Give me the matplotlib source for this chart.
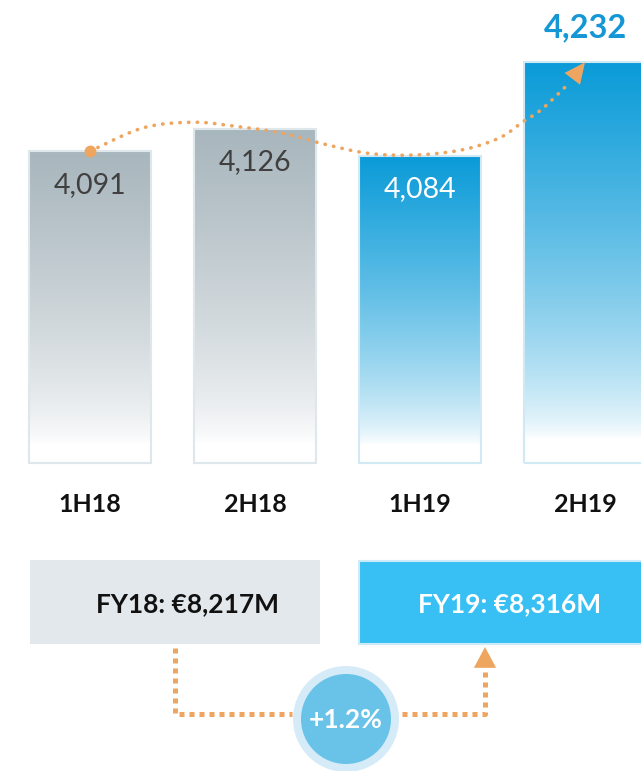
import numpy as np
import matplotlib
matplotlib.use("Agg")
import matplotlib.pyplot as plt
from matplotlib.path import Path
from matplotlib.patches import Rectangle, Circle
from matplotlib.colors import to_rgb

plt.rcParams['font.family'] = ['Lato', 'DejaVu Sans']

# data
periods = ['1H18', '2H18', '1H19', '2H19']
revenue = [4091, 4126, 4084, 4232]
label_text = ['4,091', '4,126', '4,084', '4,232']
fy_labels = ['FY18: €8,217M', 'FY19: €8,316M']
growth_label = '+1.2%'

# dotted trend curve, knots (x in bar index, y in €M)
trend_x = [0, 0.32, 0.62, 0.87, 1.16, 1.41, 1.68, 1.96, 2.25, 2.48, 2.62, 2.74, 2.90]
trend_y = [4091, 4128, 4137, 4131, 4120, 4103, 4088, 4085, 4093, 4112, 4137, 4158, 4198]

GREY_TOP = '#a8b6bd'
BLUE_TOP = '#0a9bd8'
ORANGE = '#eea560'

fig = plt.figure(figsize=(6.41, 7.71), dpi=100)

# --- background layer in pixel units for the FY boxes ---
bg = fig.add_axes([0, 0, 1, 1])
bg.set_xlim(0, 641)
bg.set_ylim(771, 0)
bg.axis('off')

bg.add_patch(Rectangle((29.5, 560), 290, 84, fc='#e2e8eb', ec='none'))
bg.add_patch(Rectangle((359, 561), 300, 83, fc='#38bff3', ec='#cdeaf8', lw=1.5))
bg.text(188, 604, fy_labels[0], ha='center', va='center', fontsize=19,
        fontweight='bold', color='#111111')
bg.text(510, 604, fy_labels[1], ha='center', va='center', fontsize=19,
        fontweight='bold', color='white')

sq = dict(color=ORANGE, lw=3.6, ls=(0, (1, 1)), dash_capstyle='butt',
          solid_capstyle='butt')
bg.plot([174.5, 174.5, 292], [648, 714, 714], **sq)
bg.plot([402, 485, 485], [714, 714, 668], **sq)
bg.annotate('', xy=(485, 647), xytext=(485, 668),
            arrowprops=dict(arrowstyle='-|>,head_length=0.75,head_width=0.4',
                            color=ORANGE, lw=0, mutation_scale=20,
                            shrinkA=0, shrinkB=0))

bg.add_patch(Circle((346, 719), 53, fc='#d5ebf8', ec='none'))
bg.add_patch(Circle((346, 719), 45, fc='#69c3e9', ec='none'))
bg.text(346, 720, growth_label, ha='center', va='center', fontsize=19,
        fontweight='bold', color='white')

# --- bar chart ---
base = 3597
px_per_unit = 0.631
ax = fig.add_axes([0, 306 / 771, 1, 465 / 771])
ax.patch.set_alpha(0)
ylo = base - 2 / px_per_unit
yhi = base + 463 / px_per_unit
xlo, xhi = -90 / 165, 551 / 165
for s in ax.spines.values():
    s.set_visible(False)
ax.set_yticks([])

x = np.arange(len(periods))
width = 0.74
heights = np.array(revenue) - base
bars = ax.bar(x, heights, bottom=base, width=width, fc='none', lw=1.5, zorder=3)

for i, (b, v) in enumerate(zip(bars, revenue)):
    top = np.array(to_rgb(GREY_TOP if i < 2 else BLUE_TOP))
    edge = '#dde7ec' if i < 2 else '#d0e9f5'
    b.set_edgecolor(edge)
    t = np.linspace(0, 1, 256)
    s = np.clip((t - 0.06) / 0.94, 0, 1) ** 0.7
    rgb = 1 - s[:, None] * (1 - top[None, :])
    img = rgb[:, None, :]
    im = ax.imshow(img, extent=(i - width / 2, i + width / 2, base, v),
                   origin='lower', aspect='auto', zorder=2, interpolation='bilinear')
    im.set_clip_path(b)

ax.set_xlim(xlo, xhi)
ax.set_ylim(ylo, yhi)

ax.set_xticks(x, periods)
ax.tick_params(axis='x', length=0, pad=20, labelsize=18)
for lab in ax.get_xticklabels():
    lab.set_fontweight('bold')
    lab.set_color('#111111')

# value labels
for i, v in enumerate(revenue[:3]):
    ax.annotate(label_text[i], (i, v), xytext=(0, -24), textcoords='offset points',
                ha='center', va='center', fontsize=20.5,
                color='white' if i == 2 else '#404040', zorder=5)
ax.annotate(label_text[3], (3, revenue[3]), xytext=(0, 25), textcoords='offset points',
            ha='center', va='center', fontsize=23.5, fontweight='bold',
            color='#1597d5', annotation_clip=False, zorder=5)

# smooth dotted trend line (Catmull-Rom through the knots)
pts = np.column_stack([trend_x, trend_y]).astype(float)
ext = np.vstack([pts[0], pts, pts[-1]])
verts = [pts[0]]
codes = [Path.MOVETO]
for k in range(1, len(ext) - 2):
    p0, p1, p2, p3 = ext[k - 1], ext[k], ext[k + 1], ext[k + 2]
    verts += [p1 + (p2 - p0) / 6, p2 - (p3 - p1) / 6, p2]
    codes += [Path.CURVE4] * 3
curve = Path(verts, codes)
seg_pts = [seg.point_at_t(np.linspace(0, 1, 25)) for seg, _ in curve.iter_bezier()]
line = np.vstack(seg_pts)
ax.plot(line[:, 0], line[:, 1], color=ORANGE, lw=2.6, ls=(0, (0.1, 2.3)),
        dash_capstyle='round', zorder=6, clip_on=False)
ax.plot(trend_x[0], trend_y[0], 'o', color=ORANGE, ms=7.5, zorder=7)
ax.annotate('', xy=(3, revenue[3]), xytext=(trend_x[-1], trend_y[-1]),
            arrowprops=dict(arrowstyle='-|>,head_length=0.75,head_width=0.35',
                            color=ORANGE, lw=0, mutation_scale=20,
                            shrinkA=0, shrinkB=0), zorder=7)

fig.savefig('out.png', dpi=100)
